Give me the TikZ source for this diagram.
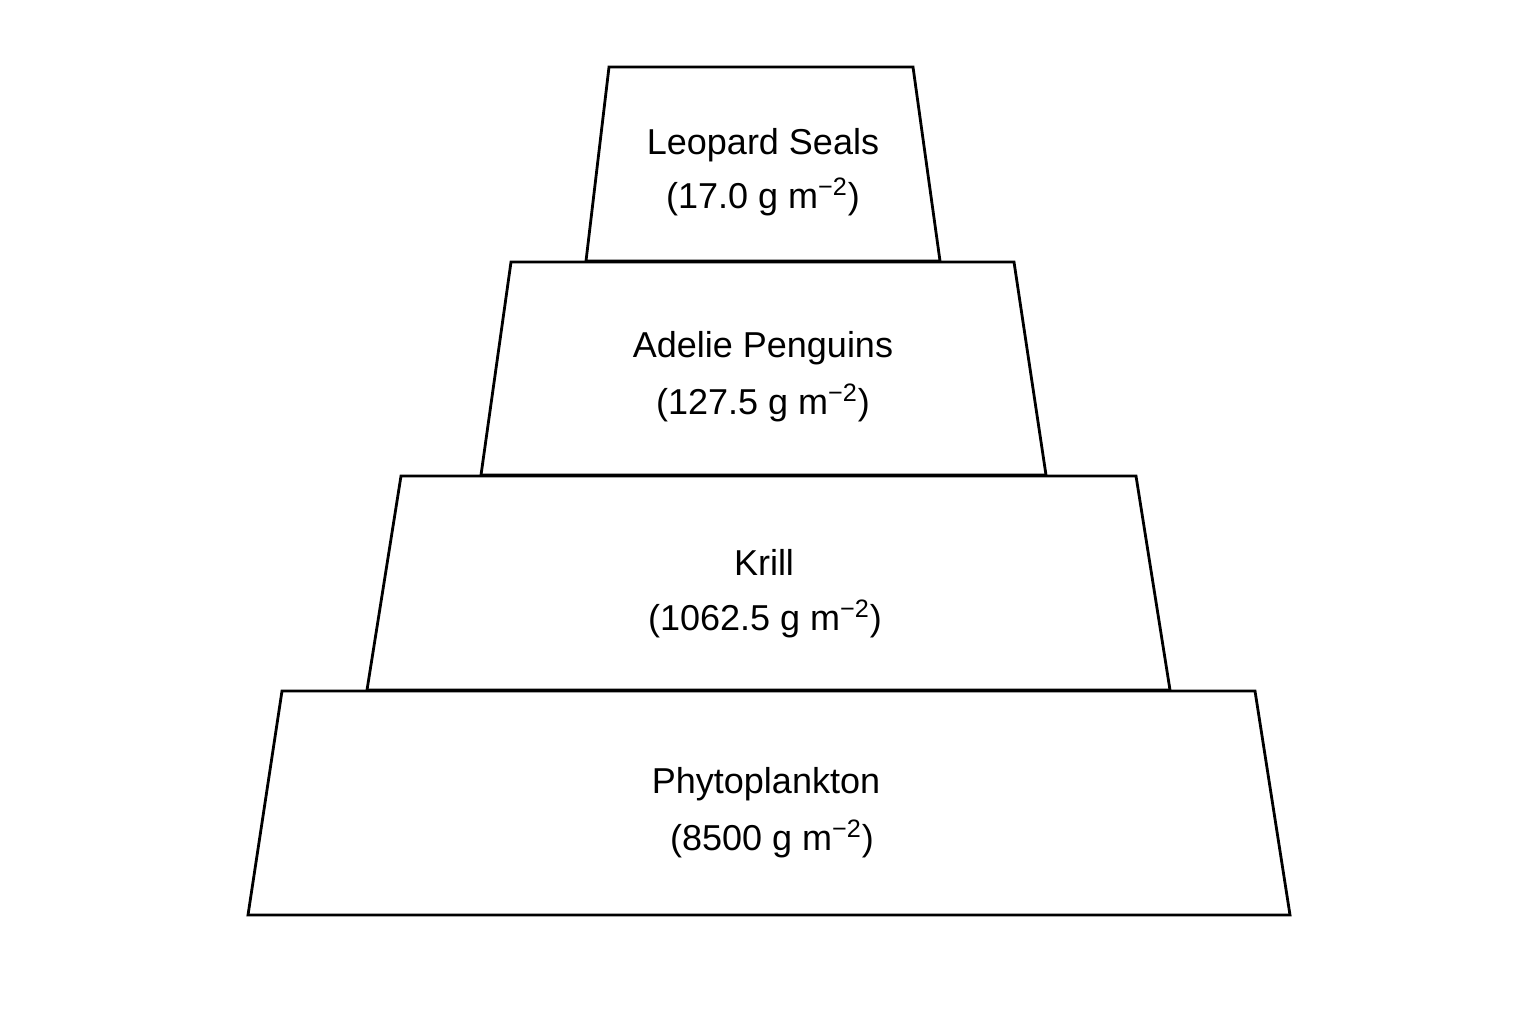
\documentclass[tikz,border=0pt]{standalone}
\usepackage{fontspec}
\setmainfont{Liberation Sans}
\begin{document}
\begin{tikzpicture}[x=0.5pt,y=-0.5pt,
  tier/.style={draw=black,line width=1.4pt,line join=miter,fill=white},
  lbl/.style={anchor=base,inner sep=0pt,font=\fontsize{18}{22}\selectfont}]
\useasboundingbox (0,0) rectangle (1536,1024);
\fill[white] (0,0) rectangle (1536,1024);
% tiers
\draw[tier] (282,691) -- (1255,691) -- (1290,915) -- (248,915) -- cycle;
\draw[tier] (401,476) -- (1136,476) -- (1170,690) -- (367,690) -- cycle;
\draw[tier] (511,262) -- (1014,262) -- (1046,475) -- (481,475) -- cycle;
\draw[tier] (609,67) -- (913,67) -- (940,261) -- (586,261) -- cycle;
% labels
\node[lbl] (seal1) at (763,154) {Leopard Seals};
\node[lbl] (seal2) at (763,208) {(17.0 g m\textsuperscript{−2})};
\node[lbl] (peng1) at (763,357) {Adelie Penguins};
\node[lbl] (peng2) at (763,414) {(127.5 g m\textsuperscript{−2})};
\node[lbl] (krill1) at (764,575) {Krill};
\node[lbl] (krill2) at (765,630) {(1062.5 g m\textsuperscript{−2})};
\node[lbl] (phyto1) at (766,793) {Phytoplankton};
\node[lbl] (phyto2) at (772,850) {(8500 g m\textsuperscript{−2})};
\end{tikzpicture}
\end{document}
